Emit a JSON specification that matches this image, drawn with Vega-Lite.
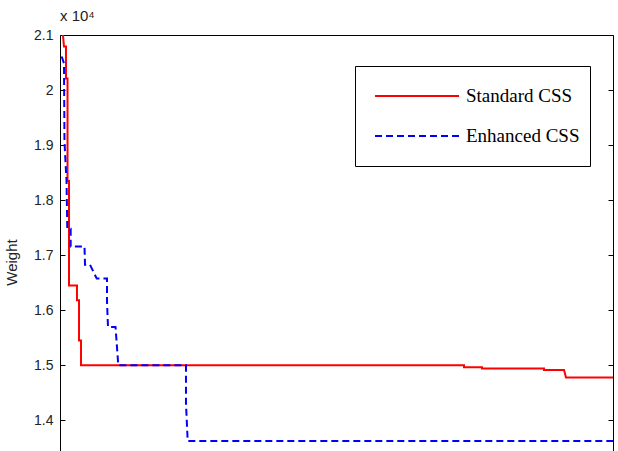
{
  "$schema": "https://vega.github.io/schema/vega-lite/v6.json",
  "width": 553,
  "height": 416,
  "autosize": {"type": "none"},
  "padding": {"left": 60, "top": 35, "right": 5, "bottom": 0},
  "background": "white",
  "title": {"text": "x 10⁴", "anchor": "start", "frame": "group", "fontSize": 15, "font": "Liberation Sans", "fontWeight": "normal", "color": "#222", "offset": 4},
  "config": {"view": {"stroke": "#000", "strokeWidth": 1}, "axis": {"grid": false}},
  "data": {"values": [
    {"method": "Standard CSS", "i": 1, "iter": 5.4, "weight": 21000},
    {"method": "Standard CSS", "i": 2, "iter": 7.2, "weight": 20790},
    {"method": "Standard CSS", "i": 3, "iter": 10.8, "weight": 20790},
    {"method": "Standard CSS", "i": 4, "iter": 10.8, "weight": 20210},
    {"method": "Standard CSS", "i": 5, "iter": 13.6, "weight": 20210},
    {"method": "Standard CSS", "i": 6, "iter": 13.6, "weight": 18350},
    {"method": "Standard CSS", "i": 7, "iter": 16.3, "weight": 18350},
    {"method": "Standard CSS", "i": 8, "iter": 16.3, "weight": 16450},
    {"method": "Standard CSS", "i": 9, "iter": 30.7, "weight": 16450},
    {"method": "Standard CSS", "i": 10, "iter": 30.7, "weight": 16180},
    {"method": "Standard CSS", "i": 11, "iter": 34.4, "weight": 16180},
    {"method": "Standard CSS", "i": 12, "iter": 34.4, "weight": 15450},
    {"method": "Standard CSS", "i": 13, "iter": 38.0, "weight": 15450},
    {"method": "Standard CSS", "i": 14, "iter": 38.0, "weight": 15000},
    {"method": "Standard CSS", "i": 15, "iter": 730.6, "weight": 15000},
    {"method": "Standard CSS", "i": 16, "iter": 730.6, "weight": 14964},
    {"method": "Standard CSS", "i": 17, "iter": 763.1, "weight": 14964},
    {"method": "Standard CSS", "i": 18, "iter": 763.1, "weight": 14940},
    {"method": "Standard CSS", "i": 19, "iter": 875.2, "weight": 14940},
    {"method": "Standard CSS", "i": 20, "iter": 875.2, "weight": 14915},
    {"method": "Standard CSS", "i": 21, "iter": 911.4, "weight": 14915},
    {"method": "Standard CSS", "i": 22, "iter": 915.0, "weight": 14777},
    {"method": "Standard CSS", "i": 23, "iter": 1000, "weight": 14777},
    {"method": "Enhanced CSS", "i": 1, "iter": 3.1, "weight": 20610},
    {"method": "Enhanced CSS", "i": 2, "iter": 7.2, "weight": 20484},
    {"method": "Enhanced CSS", "i": 3, "iter": 8.1, "weight": 19073},
    {"method": "Enhanced CSS", "i": 4, "iter": 10.3, "weight": 18620},
    {"method": "Enhanced CSS", "i": 5, "iter": 11.8, "weight": 18349},
    {"method": "Enhanced CSS", "i": 6, "iter": 13.2, "weight": 17480},
    {"method": "Enhanced CSS", "i": 7, "iter": 19.3, "weight": 17480},
    {"method": "Enhanced CSS", "i": 8, "iter": 19.3, "weight": 17159},
    {"method": "Enhanced CSS", "i": 9, "iter": 44.3, "weight": 17159},
    {"method": "Enhanced CSS", "i": 10, "iter": 45.2, "weight": 16828},
    {"method": "Enhanced CSS", "i": 11, "iter": 54.2, "weight": 16828},
    {"method": "Enhanced CSS", "i": 12, "iter": 66.4, "weight": 16575},
    {"method": "Enhanced CSS", "i": 13, "iter": 85.0, "weight": 16575},
    {"method": "Enhanced CSS", "i": 14, "iter": 85.0, "weight": 16158},
    {"method": "Enhanced CSS", "i": 15, "iter": 86.8, "weight": 15697},
    {"method": "Enhanced CSS", "i": 16, "iter": 100.4, "weight": 15697},
    {"method": "Enhanced CSS", "i": 17, "iter": 105.4, "weight": 15000},
    {"method": "Enhanced CSS", "i": 18, "iter": 227.8, "weight": 15000},
    {"method": "Enhanced CSS", "i": 19, "iter": 227.8, "weight": 14312},
    {"method": "Enhanced CSS", "i": 20, "iter": 230.9, "weight": 13624},
    {"method": "Enhanced CSS", "i": 21, "iter": 1000, "weight": 13624}
  ]},
  "layer": [
    {
      "mark": {"type": "line", "strokeWidth": 2, "clip": true},
      "encoding": {
        "x": {"field": "iter", "type": "quantitative", "scale": {"domain": [0, 1000], "nice": false}, "axis": null},
        "y": {"field": "weight", "type": "quantitative", "scale": {"domain": [13443, 21000], "nice": false, "zero": false},
          "axis": {"values": [14000, 15000, 16000, 17000, 18000, 19000, 20000, 21000], "labelExpr": "datum.value / 10000", "tickSize": -5, "labelPadding": 12, "domain": false, "grid": false, "tickColor": "#000", "labelFont": "Liberation Sans", "labelFontSize": 14, "labelColor": "#222", "title": "Weight", "titleFont": "Liberation Sans", "titleFontSize": 15, "titleFontWeight": "normal", "titleColor": "#222", "titleX": -41, "titleY": 227}},
        "color": {"field": "method", "type": "nominal", "scale": {"domain": ["Standard CSS", "Enhanced CSS"], "range": ["#ff0000", "#0000ff"]},
          "legend": {"title": null, "orient": "none", "legendX": 295, "legendY": 31, "strokeColor": "#000", "fillColor": "#fff", "padding": 10, "symbolOffset": 9, "symbolType": "stroke", "symbolSize": 7056, "symbolStrokeWidth": 2, "labelFont": "Liberation Serif", "labelFontSize": 19, "labelColor": "#000", "labelOffset": 6, "rowPadding": 0, "clipHeight": 40}},
        "strokeDash": {"field": "method", "type": "nominal", "scale": {"domain": ["Standard CSS", "Enhanced CSS"], "range": [[1, 0], [7, 4]]},
          "legend": {"title": null, "orient": "none", "legendX": 295, "legendY": 31, "strokeColor": "#000", "fillColor": "#fff", "padding": 10, "symbolOffset": 9, "symbolType": "stroke", "symbolSize": 7056, "symbolStrokeWidth": 2, "labelFont": "Liberation Serif", "labelFontSize": 19, "labelColor": "#000", "labelOffset": 6, "rowPadding": 0, "clipHeight": 40}},
        "order": {"field": "i", "type": "quantitative"}
      }
    },
    {
      "mark": {"type": "line", "opacity": 0, "clip": true},
      "encoding": {
        "x": {"field": "iter", "type": "quantitative", "axis": null},
        "y": {"field": "weight", "type": "quantitative", "axis": {"orient": "right", "values": [14000, 15000, 16000, 17000, 18000, 19000, 20000, 21000], "labels": false, "tickSize": -5, "domain": false, "grid": false, "tickColor": "#000", "title": null}},
        "detail": {"field": "method"},
        "order": {"field": "i", "type": "quantitative"}
      }
    }
  ],
  "resolve": {"axis": {"y": "independent"}}
}
